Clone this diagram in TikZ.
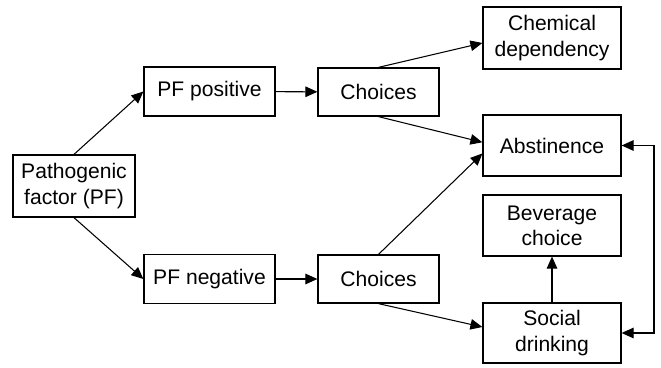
\documentclass[tikz,border=0pt]{standalone}
\usepackage{fontspec}
\setmainfont{Liberation Sans}
\usetikzlibrary{arrows.meta}
\begin{document}
\begin{tikzpicture}[
  box/.style={draw, rectangle, align=center, line width=0.9pt, inner sep=2pt,
    font=\fontsize{15}{18}\selectfont},
  >={Triangle[length=8.5pt,width=7.5pt]}, line width=0.75pt]
\useasboundingbox (0,0) rectangle (16.525,9.175);
\node[box, minimum width=3.05cm, minimum height=1.55cm] (pf) at (1.85,4.525) {Pathogenic\\factor (PF)};
\node[box, minimum width=3.275cm, minimum height=1.225cm] (pos) at (5.2375,6.8875) {PF positive};
\node[box, minimum width=3.275cm, minimum height=1.225cm] (neg) at (5.2375,2.2) {PF negative};
\node[box, minimum width=3.025cm, minimum height=1.2cm] (cho1) at (9.4625,6.875) {Choices};
\node[box, minimum width=3.025cm, minimum height=1.2cm] (cho2) at (9.4625,2.2) {Choices};
\node[box, minimum width=3.45cm, minimum height=1.55cm] (chem) at (13.8,8.225) {Chemical\\dependency};
\node[box, minimum width=3.45cm, minimum height=1.525cm] (abst) at (13.8,5.5375) {Abstinence};
\node[box, minimum width=3.45cm, minimum height=1.525cm] (bev) at (13.8,3.5375) {Beverage\\choice};
\node[box, minimum width=3.45cm, minimum height=1.5cm] (soc) at (13.8,0.85) {Social\\drinking};
\coordinate (fb) at (16.35,0);
\draw[->] (pf.north) -- (pos.west);
\draw[->] (pf.south) -- (neg.west);
\draw[->] (pos) -- (cho1);
\draw[->] (neg) -- (cho2);
\draw[->] (cho1.north) -- ([yshift=-0.125cm]chem.west);
\draw[->] (cho1.south) -- ([yshift=0.08cm]abst.west);
\draw[->] (cho2.north) -- ([yshift=-0.2cm]abst.west);
\draw[->] (cho2.south) -- ([yshift=0.15cm]soc.west);
\draw[->] (soc) -- (bev);
\draw[<->] (abst.east) -- (abst.east -| fb) -- (soc.east -| fb) -- (soc.east);
\end{tikzpicture}
\end{document}
